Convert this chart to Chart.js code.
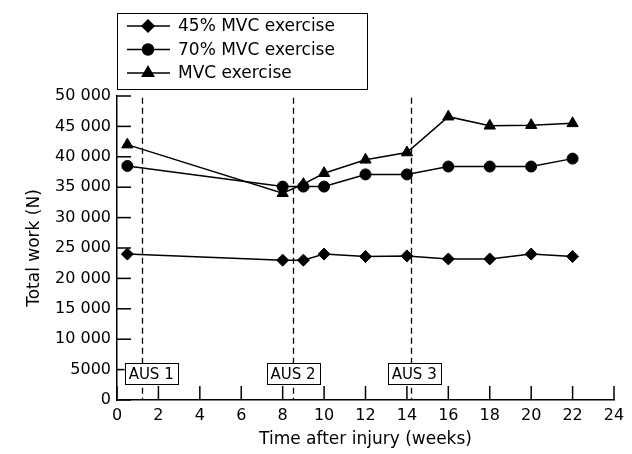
<!DOCTYPE html>
<html>
<head>
<meta charset="utf-8">
<script src="https://cdn.jsdelivr.net/npm/chart.js@4"></script>
<style>
  html, body { margin: 0; padding: 0; background: #fff; }
  #wrap { width: 632px; height: 454px; }
</style>
</head>
<body>
<div id="wrap"><canvas id="myChart"></canvas></div>
<script>
const seriesNames = ["45% MVC exercise", "70% MVC exercise", "MVC exercise"];
const weeks = [0.5, 8, 9, 10, 12, 14, 16, 18, 20, 22];
const work45 = [24000, 23000, 23000, 24000, 23600, 23700, 23200, 23200, 24000, 23600];
const work70 = [38500, 35100, 35100, 35100, 37100, 37100, 38400, 38400, 38400, 39700];
const workMax = [42000, 34000, 35500, 37300, 39500, 40700, 46600, 45100, 45200, 45500];
const ausWeeks = [1.2, 8.5, 14.2];
const ausLabels = ["AUS 1", "AUS 2", "AUS 3"];
const ausLabelWeeks = [1.65, 8.5, 14.35];
const ausLabelValue = 4300;

const FONT = "'DejaVu Sans', sans-serif";
const pointStyles = ["rectRot", "circle", "triangle"];
const pointSizes = [6, 5.5, 6.5];

const toPoints = (vals) => vals.map((v, i) => ({ x: weeks[i], y: v }));

const makeSet = (label, vals, i) => ({
  label: label,
  data: toPoints(vals),
  borderColor: "#000",
  backgroundColor: "#000",
  borderWidth: 1.5,
  pointStyle: pointStyles[i],
  pointRadius: pointSizes[i],
  pointBorderWidth: 1,
  showLine: true,
  tension: 0,
});

// inward ticks, dashed AUS lines, their labels and the boxed legend
const extrasPlugin = {
  id: "extras",
  beforeDatasetsDraw(chart) {
    const ctx = chart.ctx;
    const xs = chart.scales.x;
    const ys = chart.scales.y;
    ctx.save();
    ctx.strokeStyle = "#000";
    ctx.lineWidth = 1.3;
    ctx.setLineDash([6, 4]);
    ausWeeks.forEach((w) => {
      const px = Math.round(xs.getPixelForValue(w)) + 0.5;
      ctx.beginPath();
      ctx.moveTo(px, ys.getPixelForValue(49700));
      ctx.lineTo(px, ys.getPixelForValue(0));
      ctx.stroke();
    });
    ctx.setLineDash([]);
    // inward ticks
    ctx.lineWidth = 1.5;
    xs.ticks.forEach((t) => {
      const px = xs.getPixelForValue(t.value);
      ctx.beginPath();
      ctx.moveTo(px, ys.bottom);
      ctx.lineTo(px, ys.bottom - 14);
      ctx.stroke();
    });
    ys.ticks.forEach((t) => {
      const py = ys.getPixelForValue(t.value);
      ctx.beginPath();
      ctx.moveTo(xs.left, py);
      ctx.lineTo(xs.left + 14, py);
      ctx.stroke();
    });
    // AUS boxes
    ctx.font = "15px " + FONT;
    ctx.textAlign = "center";
    ctx.textBaseline = "middle";
    ausLabels.forEach((lab, i) => {
      const cx = xs.getPixelForValue(ausLabelWeeks[i]);
      const cy = ys.getPixelForValue(ausLabelValue);
      const w = 53, h = 21;
      ctx.fillStyle = "#fff";
      ctx.fillRect(cx - w / 2, cy - h / 2, w, h);
      ctx.lineWidth = 1;
      ctx.strokeRect(Math.round(cx - w / 2) + 0.5, Math.round(cy - h / 2) + 0.5, w, h);
      ctx.fillStyle = "#000";
      ctx.fillText(lab, cx, cy + 1);
    });
    ctx.restore();
  },
  afterDraw(chart) {
    const ctx = chart.ctx;
    ctx.save();
    ctx.strokeStyle = "#000";
    ctx.fillStyle = "#000";
    ctx.lineWidth = 1;
    ctx.strokeRect(117.5, 13.5, 250, 76);
    ctx.font = "17px " + FONT;
    ctx.textAlign = "left";
    ctx.textBaseline = "middle";
    chart.data.datasets.forEach((ds, i) => {
      const y = 26 + i * 23.5;
      ctx.lineWidth = 1.5;
      ctx.beginPath();
      ctx.moveTo(127, y);
      ctx.lineTo(170, y);
      ctx.stroke();
      Chart.helpers.drawPoint(ctx, { pointStyle: ds.pointStyle, radius: ds.pointRadius, borderWidth: 1 }, 148, y);
      ctx.fill();
      ctx.fillText(ds.label, 178, y + 1);
    });
    ctx.restore();
  },
};

const myChart = document.getElementById("myChart");
const newChart = new Chart(myChart, {
  type: "scatter",
  data: {
    datasets: [
      makeSet(seriesNames[0], work45, 0),
      makeSet(seriesNames[1], work70, 1),
      makeSet(seriesNames[2], workMax, 2),
    ],
  },
  options: {
    responsive: true,
    maintainAspectRatio: false,
    animation: false,
    layout: { padding: { top: 96, left: 24, right: 18, bottom: 0 } },
    plugins: {
      legend: { display: false },
      tooltip: { enabled: false },
    },
    scales: {
      x: {
        type: "linear",
        min: 0,
        max: 24,
        grid: { display: false, drawTicks: false },
        border: { display: true, color: "#000", width: 1.5 },
        ticks: { stepSize: 2, color: "#000", font: { family: FONT, size: 16 }, padding: 6 },
        title: { display: true, text: "Time after injury (weeks)", color: "#000", font: { family: FONT, size: 17 }, padding: { top: 11 } },
        afterFit: (scale) => { scale.height = 54; },
      },
      y: {
        min: 0,
        max: 50000,
        grid: { display: false, drawTicks: false },
        border: { display: true, color: "#000", width: 1.5 },
        ticks: {
          stepSize: 5000,
          color: "#000",
          font: { family: FONT, size: 16 },
          padding: 6,
          callback: (v) => (v >= 10000 ? String(v).replace(/(\d+)(\d{3})$/, "$1 $2") : String(v)),
        },
        title: { display: true, text: "Total work (N)", color: "#000", font: { family: FONT, size: 17 }, padding: 0 },
        afterFit: (scale) => { scale.width = 93; },
      },
    },
  },
  plugins: [extrasPlugin],
});
</script>
</body>
</html>
